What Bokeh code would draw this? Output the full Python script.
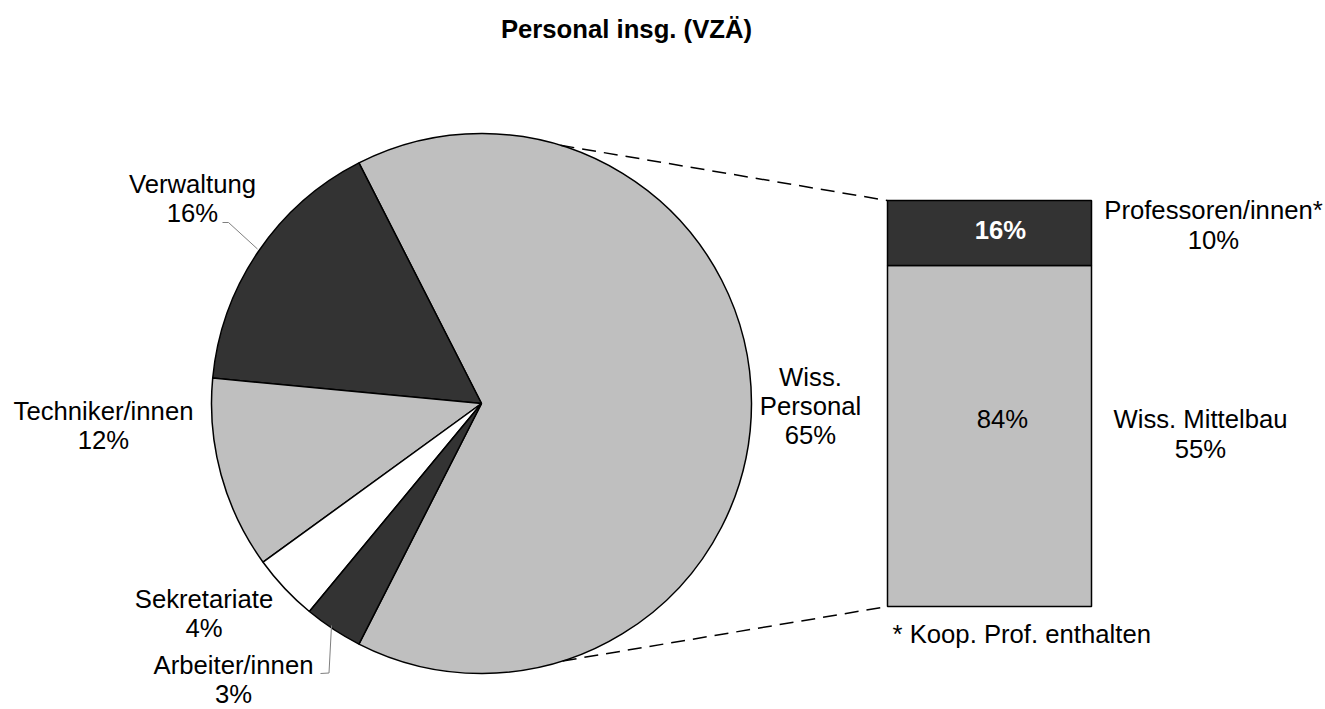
import numpy as np
from bokeh.plotting import figure
from bokeh.models import Range1d
from bokeh.embed import file_html
from bokeh.resources import INLINE
from bokeh.core.properties import value

# ---------------- data ----------------
title = "Personal insg. (VZÄ)"
pie_categories = ["Wiss.\nPersonal", "Verwaltung", "Techniker/innen", "Sekretariate", "Arbeiter/innen"]
pie_values = [65.0, 16.0, 11.5, 4.0, 3.5]
pie_labels = ["65%", "16%", "12%", "4%", "3%"]
pie_colors = ["#bfbfbf", "#333333", "#bfbfbf", "#ffffff", "#333333"]

bar_categories = ["Wiss. Mittelbau", "Professoren/innen*"]
bar_shares = [84, 16]          # share within Wiss. Personal
bar_total_labels = ["55%", "10%"]
bar_colors = ["#bfbfbf", "#333333"]
footnote = "* Koop. Prof. enthalten"

# ---------------- layout (image pixel coordinates, y downward) ----------------
W, H = 1325, 709
FONT = "Liberation Sans"
FS = "25.7px"
DY = -8.5   # baseline correction
cx, cy, R = 481, 403, 270
pie_label_pos = [(810, 385), (192, 192), (103, 419), (203.5, 607), (233, 673)]
bar_label_pos = [(1200, 427), (1213, 218)]
bar_inner_pos = [(1002, 427), (1000, 238)]
line_gap = 28.8

p = figure(width=W, height=H, output_backend="svg", toolbar_location=None,
           x_range=Range1d(0, W), y_range=Range1d(-H, 0),
           x_axis_location=None, y_axis_location=None, min_border=0)
p.grid.visible = False
p.outline_line_color = None
p.background_fill_color = "white"

# bar scale: 0% at image y 606, 100% at image y 200
b0, b100 = 606, 200
upp = 100.0 / (b0 - b100)
p.extra_y_ranges = {"bar": Range1d((b0 - H) * upp, b0 * upp)}

# ---------------- pie ----------------
vals = np.array(pie_values, dtype=float)
deg = vals / vals.sum() * 360.0
start0 = -deg[0] / 2.0
starts = start0 + np.concatenate([[0], np.cumsum(deg)[:-1]])
ends = starts + deg
p.wedge(x=cx, y=-cy, radius=R, start_angle=list(starts), end_angle=list(ends),
        start_angle_units="deg", end_angle_units="deg",
        fill_color=pie_colors, line_color="black", line_width=1.5)

# ---------------- bar ----------------
bshares = np.array(bar_shares, dtype=float)
bottoms = np.concatenate([[0], np.cumsum(bshares)[:-1]])
tops = bottoms + bshares
p.vbar(x=989, width=204, bottom=list(bottoms), top=list(tops), y_range_name="bar",
       fill_color=bar_colors, line_color="black", line_width=1.5)

# ---------------- connectors ----------------
a_top, a_bot = np.radians(73.0), np.radians(-72.5)
p.line([cx + R * np.cos(a_top), 887], [-(cy - R * np.sin(a_top)), -200],
       line_color="black", line_width=1.5, line_dash="14 8")
p.line([cx + R * np.cos(a_bot), 887], [-(cy - R * np.sin(a_bot)), -606],
       line_color="black", line_width=1.5, line_dash="14 8")

# leader lines
p.line([222, 228, 257], [-222, -222, -248.5], line_color="#7f7f7f", line_width=1)
p.line([320, 328.5, 331], [-673, -672.5, -625], line_color="#7f7f7f", line_width=1)

# ---------------- texts ----------------
def put_text(x, y, txt, size=FS, style="normal", color="black", align="center"):
    p.text(x=[x], y=[-(y + DY)], text=[txt], text_font=value(FONT), text_font_size=size,
           text_font_style=style, text_color=color, text_align=align,
           text_baseline="alphabetic")

for name, lab, (x, y) in zip(pie_categories, pie_labels, pie_label_pos):
    lines = name.split("\n") + [lab]
    for i, ln in enumerate(lines):
        put_text(x, y + i * line_gap, ln)

for name, lab, (x, y) in zip(bar_categories, bar_total_labels, bar_label_pos):
    put_text(x, y, name)
    put_text(x, y + 29.5, lab)

for i, (s, (x, y)) in enumerate(zip(bar_shares, bar_inner_pos)):
    if i == 1:
        put_text(x, y, f"{s}%", style="bold", color="white")
    else:
        put_text(x, y, f"{s}%")

put_text(892, 642, footnote, align="left")
put_text(626, 37, title, size="25.7px", style="bold")

open("out.html", "w").write(file_html(p, INLINE))
